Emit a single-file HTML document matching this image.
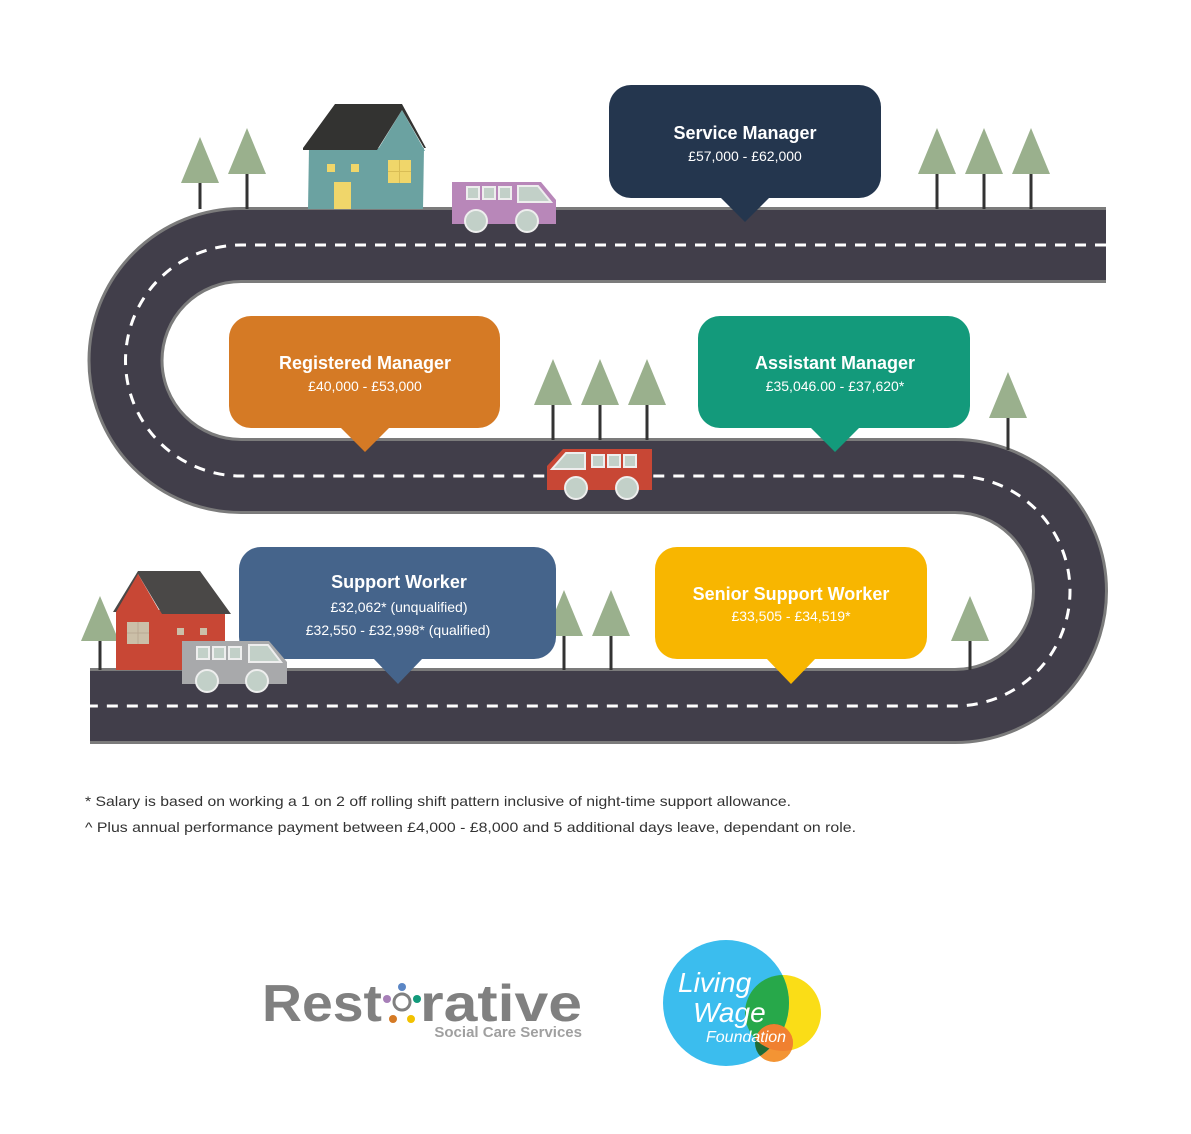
<!DOCTYPE html>
<html><head><meta charset="utf-8"><style>
html,body{margin:0;padding:0;background:#fff;}
svg{display:block;}
text{font-family:"Liberation Sans",sans-serif;}
</style></head><body>
<svg width="1191" height="1134" viewBox="0 0 1191 1134" xmlns="http://www.w3.org/2000/svg">
<defs>
<clipPath id="blue"><circle cx="726" cy="1003" r="63"/></clipPath>
<clipPath id="yel"><circle cx="783" cy="1013" r="38"/></clipPath>
</defs>
<rect width="1191" height="1134" fill="#fff"/>
<!-- road -->
<path d="M1106 245 H241 A115.5 115.5 0 0 0 241 476 H955 A115 115 0 0 1 955 706 H90" fill="none" stroke="#7b7b7b" stroke-width="76"/>
<path d="M1106 245 H241 A115.5 115.5 0 0 0 241 476 H955 A115 115 0 0 1 955 706 H90" fill="none" stroke="#413e4a" stroke-width="70"/>
<path d="M1106 245 H241 A115.5 115.5 0 0 0 241 476 H955 A115 115 0 0 1 955 706 H90" fill="none" stroke="#fff" stroke-width="3" stroke-dasharray="11 9"/>
<rect x="1106" y="200" width="40" height="90" fill="#fff"/>
<rect x="50" y="660" width="40" height="90" fill="#fff"/>

<!-- trees -->
<g fill="#9ab08d">
<polygon points="200,137 181,183 219,183"/><polygon points="247,128 228,174 266,174"/>
<polygon points="937,128 918,174 956,174"/><polygon points="984,128 965,174 1003,174"/><polygon points="1031,128 1012,174 1050,174"/>
<polygon points="553,359 534,405 572,405"/><polygon points="600,359 581,405 619,405"/><polygon points="647,359 628,405 666,405"/>
<polygon points="1008,372 989,418 1027,418"/>
<polygon points="100,596 81,641 119,641"/>
<polygon points="564,590 545,636 583,636"/><polygon points="611,590 592,636 630,636"/>
<polygon points="970,596 951,641 989,641"/>
</g>
<g stroke="#333" stroke-width="3">
<line x1="200" y1="183" x2="200" y2="209"/><line x1="247" y1="174" x2="247" y2="209"/>
<line x1="937" y1="174" x2="937" y2="209"/><line x1="984" y1="174" x2="984" y2="209"/><line x1="1031" y1="174" x2="1031" y2="209"/>
<line x1="553" y1="405" x2="553" y2="440"/><line x1="600" y1="405" x2="600" y2="440"/><line x1="647" y1="405" x2="647" y2="440"/>
<line x1="1008" y1="418" x2="1008" y2="450"/>
<line x1="100" y1="641" x2="100" y2="670"/>
<line x1="564" y1="636" x2="564" y2="670"/><line x1="611" y1="636" x2="611" y2="670"/>
<line x1="970" y1="641" x2="970" y2="670"/>
</g>

<!-- teal house -->
<polygon points="309,148 424,148 423,209 308,209" fill="#6ba2a1"/>
<polygon points="402,110 377,151 425,151" fill="#6ba2a1"/>
<polygon points="303,148 335,104 402,104 426,148 424,148 402,110 377,150 303,150" fill="#333331"/>
<rect x="327" y="164" width="8" height="8" fill="#f0d66a"/><rect x="351" y="164" width="8" height="8" fill="#f0d66a"/>
<rect x="334" y="182" width="17" height="27" fill="#f0d66a"/>
<rect x="388" y="160" width="23" height="23" fill="#f0d66a"/>
<line x1="399.5" y1="160" x2="399.5" y2="183" stroke="#d9bd55" stroke-width="1"/><line x1="388" y1="171.5" x2="411" y2="171.5" stroke="#d9bd55" stroke-width="1"/>

<!-- purple van -->
<polygon points="452,182 541,182 556,200 556,224 452,224" fill="#b887b9"/>
<rect x="467" y="187" width="12" height="12" fill="#c2d0c8" stroke="#eee" stroke-width="2"/>
<rect x="483" y="187" width="12" height="12" fill="#c2d0c8" stroke="#eee" stroke-width="2"/>
<rect x="499" y="187" width="12" height="12" fill="#c2d0c8" stroke="#eee" stroke-width="2"/>
<polygon points="518,186 538,186 551,202 518,202" fill="#c2d0c8" stroke="#eee" stroke-width="2"/>
<circle cx="476" cy="221" r="11" fill="#c2d0c8" stroke="#eee" stroke-width="2"/>
<circle cx="527" cy="221" r="11" fill="#c2d0c8" stroke="#eee" stroke-width="2"/>

<!-- red van -->
<polygon points="563,449 652,449 652,490 547,490 547,466" fill="#c84735"/>
<polygon points="566,453 585,453 585,469 552,469" fill="#c2d0c8" stroke="#eee" stroke-width="2"/>
<rect x="592" y="455" width="12" height="12" fill="#c2d0c8" stroke="#eee" stroke-width="2"/>
<rect x="608" y="455" width="12" height="12" fill="#c2d0c8" stroke="#eee" stroke-width="2"/>
<rect x="624" y="455" width="12" height="12" fill="#c2d0c8" stroke="#eee" stroke-width="2"/>
<circle cx="576" cy="488" r="11" fill="#c2d0c8" stroke="#eee" stroke-width="2"/>
<circle cx="627" cy="488" r="11" fill="#c2d0c8" stroke="#eee" stroke-width="2"/>

<!-- red house -->
<rect x="116" y="610" width="109" height="60" fill="#c84735"/>
<polygon points="113,612 138,571 200,571 231,614 162,614 138,574 133,612" fill="#4a4847"/>
<polygon points="138,574 160,612 116,612" fill="#c84735"/>
<rect x="127" y="622" width="22" height="22" fill="#cbbfa8"/>
<line x1="138" y1="622" x2="138" y2="644" stroke="#b8a893"/><line x1="127" y1="633" x2="149" y2="633" stroke="#b8a893"/>
<rect x="177" y="628" width="7" height="7" fill="#cbbfa8"/><rect x="200" y="628" width="7" height="7" fill="#cbbfa8"/>

<!-- bubbles -->
<g>
<rect x="609" y="85" width="272" height="113" rx="22" fill="#24364e"/>
<polygon points="720,197 770,197 745,222" fill="#24364e"/>
<text x="745" y="139" font-size="18" font-weight="bold" fill="#fff" text-anchor="middle">Service Manager</text>
<text x="745" y="161" font-size="14" fill="#fff" text-anchor="middle">£57,000 - £62,000</text>

<rect x="229" y="316" width="271" height="112" rx="22" fill="#d57a25"/>
<polygon points="340,427 390,427 365,452" fill="#d57a25"/>
<text x="365" y="369" font-size="18" font-weight="bold" fill="#fff" text-anchor="middle">Registered Manager</text>
<text x="365" y="391" font-size="14" fill="#fff" text-anchor="middle">£40,000 - £53,000</text>

<rect x="698" y="316" width="272" height="112" rx="22" fill="#139a7b"/>
<polygon points="810,427 860,427 835,452" fill="#139a7b"/>
<text x="835" y="369" font-size="18" font-weight="bold" fill="#fff" text-anchor="middle">Assistant Manager</text>
<text x="835" y="391" font-size="14" fill="#fff" text-anchor="middle">£35,046.00 - £37,620*</text>

<rect x="239" y="547" width="317" height="112" rx="22" fill="#45648b"/>
<polygon points="373,658 423,658 398,684" fill="#45648b"/>
<text x="399" y="588" font-size="18" font-weight="bold" fill="#fff" text-anchor="middle">Support Worker</text>
<text x="399" y="612" font-size="14" fill="#fff" text-anchor="middle">£32,062* (unqualified)</text>
<text x="398" y="635" font-size="14" fill="#fff" text-anchor="middle">£32,550 - £32,998* (qualified)</text>

<rect x="655" y="547" width="272" height="112" rx="22" fill="#f8b600"/>
<polygon points="766,658 816,658 791,684" fill="#f8b600"/>
<text x="791" y="600" font-size="18" font-weight="bold" fill="#fff" text-anchor="middle">Senior Support Worker</text>
<text x="791" y="621" font-size="14" fill="#fff" text-anchor="middle">£33,505 - £34,519*</text>
</g>

<!-- gray van (in front of bubble) -->
<polygon points="182,641 269,641 287,662 287,684 182,684" fill="#a8a9ab"/>
<rect x="197" y="647" width="12" height="12" fill="#c2d0c8" stroke="#eee" stroke-width="2"/>
<rect x="213" y="647" width="12" height="12" fill="#c2d0c8" stroke="#eee" stroke-width="2"/>
<rect x="229" y="647" width="12" height="12" fill="#c2d0c8" stroke="#eee" stroke-width="2"/>
<polygon points="249,645 268,645 281,662 249,662" fill="#c2d0c8" stroke="#eee" stroke-width="2"/>
<circle cx="207" cy="681" r="11" fill="#c2d0c8" stroke="#eee" stroke-width="2"/>
<circle cx="257" cy="681" r="11" fill="#c2d0c8" stroke="#eee" stroke-width="2"/>

<text x="85" y="806" font-size="14" fill="#333" textLength="706" lengthAdjust="spacingAndGlyphs">* Salary is based on working a 1 on 2 off rolling shift pattern inclusive of night-time support allowance.</text>
<text x="85" y="832" font-size="14" fill="#333" textLength="771" lengthAdjust="spacingAndGlyphs">^ Plus annual performance payment between £4,000 - £8,000 and 5 additional days leave, dependant on role.</text>

<!-- Restorative logo -->
<text x="262" y="1021" font-size="52" font-weight="bold" fill="#808080" textLength="120" lengthAdjust="spacingAndGlyphs">Rest</text>
<text x="420" y="1021" font-size="52" font-weight="bold" fill="#808080" textLength="162" lengthAdjust="spacingAndGlyphs">rative</text>
<circle cx="402" cy="1002" r="8" fill="none" stroke="#808080" stroke-width="3"/>
<circle cx="402" cy="987" r="4" fill="#5b86c5"/>
<circle cx="387" cy="999" r="4" fill="#a77fb8"/>
<circle cx="417" cy="999" r="4" fill="#139a7b"/>
<circle cx="393" cy="1019" r="4" fill="#d57a25"/>
<circle cx="411" cy="1019" r="4" fill="#f2c200"/>
<text x="582" y="1037" font-size="15" font-weight="bold" fill="#a0a0a0" text-anchor="end">Social Care Services</text>

<!-- Living Wage logo -->
<circle cx="783" cy="1013" r="38" fill="#fadd17"/>
<circle cx="774" cy="1043" r="19" fill="#f39434"/>
<circle cx="726" cy="1003" r="63" fill="#3bbdee"/>
<g clip-path="url(#blue)"><circle cx="783" cy="1013" r="38" fill="#27a84a"/><circle cx="774" cy="1043" r="19" fill="#1e6b36"/></g>
<g clip-path="url(#yel)"><circle cx="774" cy="1043" r="19" fill="#f08030"/></g>
<text x="678" y="992" font-size="28" font-style="italic" fill="#fff" font-family="Liberation Serif, serif">Living</text>
<text x="693" y="1022" font-size="28" font-style="italic" fill="#fff" font-family="Liberation Serif, serif">Wage</text>
<text x="706" y="1042" font-size="16" font-style="italic" fill="#fff" font-family="Liberation Serif, serif">Foundation</text>
</svg>
</body></html>
